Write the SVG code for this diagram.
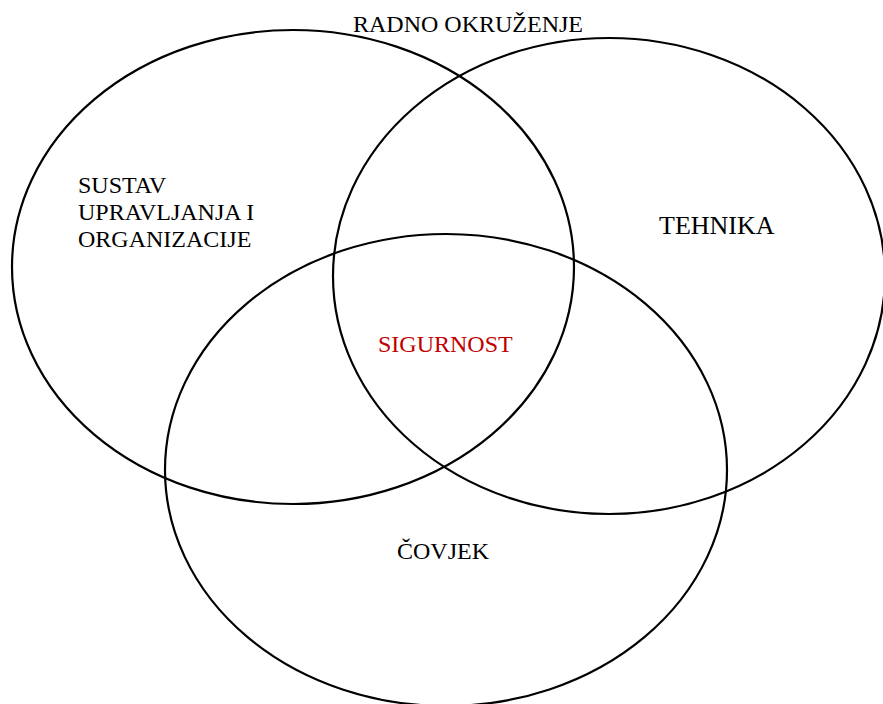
<svg xmlns="http://www.w3.org/2000/svg" width="883" height="704" viewBox="0 0 883 704">
<style>
.c{fill:none;stroke:#000;stroke-width:2.2}
.t{font-family:"Liberation Serif","Times New Roman",serif;font-size:24px;fill:#000}
.r{fill:#c00000}
</style>
<rect width="883" height="704" fill="#fff"/>
<g id="sustav">
<ellipse class="c" cx="293" cy="267" rx="281" ry="237"/>
<text class="t" x="78" y="193">SUSTAV</text>
<text class="t" x="78" y="220">UPRAVLJANJA I</text>
<text class="t" x="78" y="247">ORGANIZACIJE</text>
</g>
<g id="tehnika">
<ellipse class="c" cx="609" cy="276" rx="276" ry="238"/>
<text class="t" x="659" y="234" style="font-size:26px">TEHNIKA</text>
</g>
<g id="covjek">
<ellipse class="c" cx="446" cy="470" rx="281" ry="236"/>
<text class="t" x="397" y="559">ČOVJEK</text>
</g>
<g id="sigurnost">
<text class="t r" x="378" y="352">SIGURNOST</text>
</g>
<g id="okruzenje">
<text class="t" x="353" y="32">RADNO OKRUŽENJE</text>
</g>
<g id="connectors"/>
</svg>
